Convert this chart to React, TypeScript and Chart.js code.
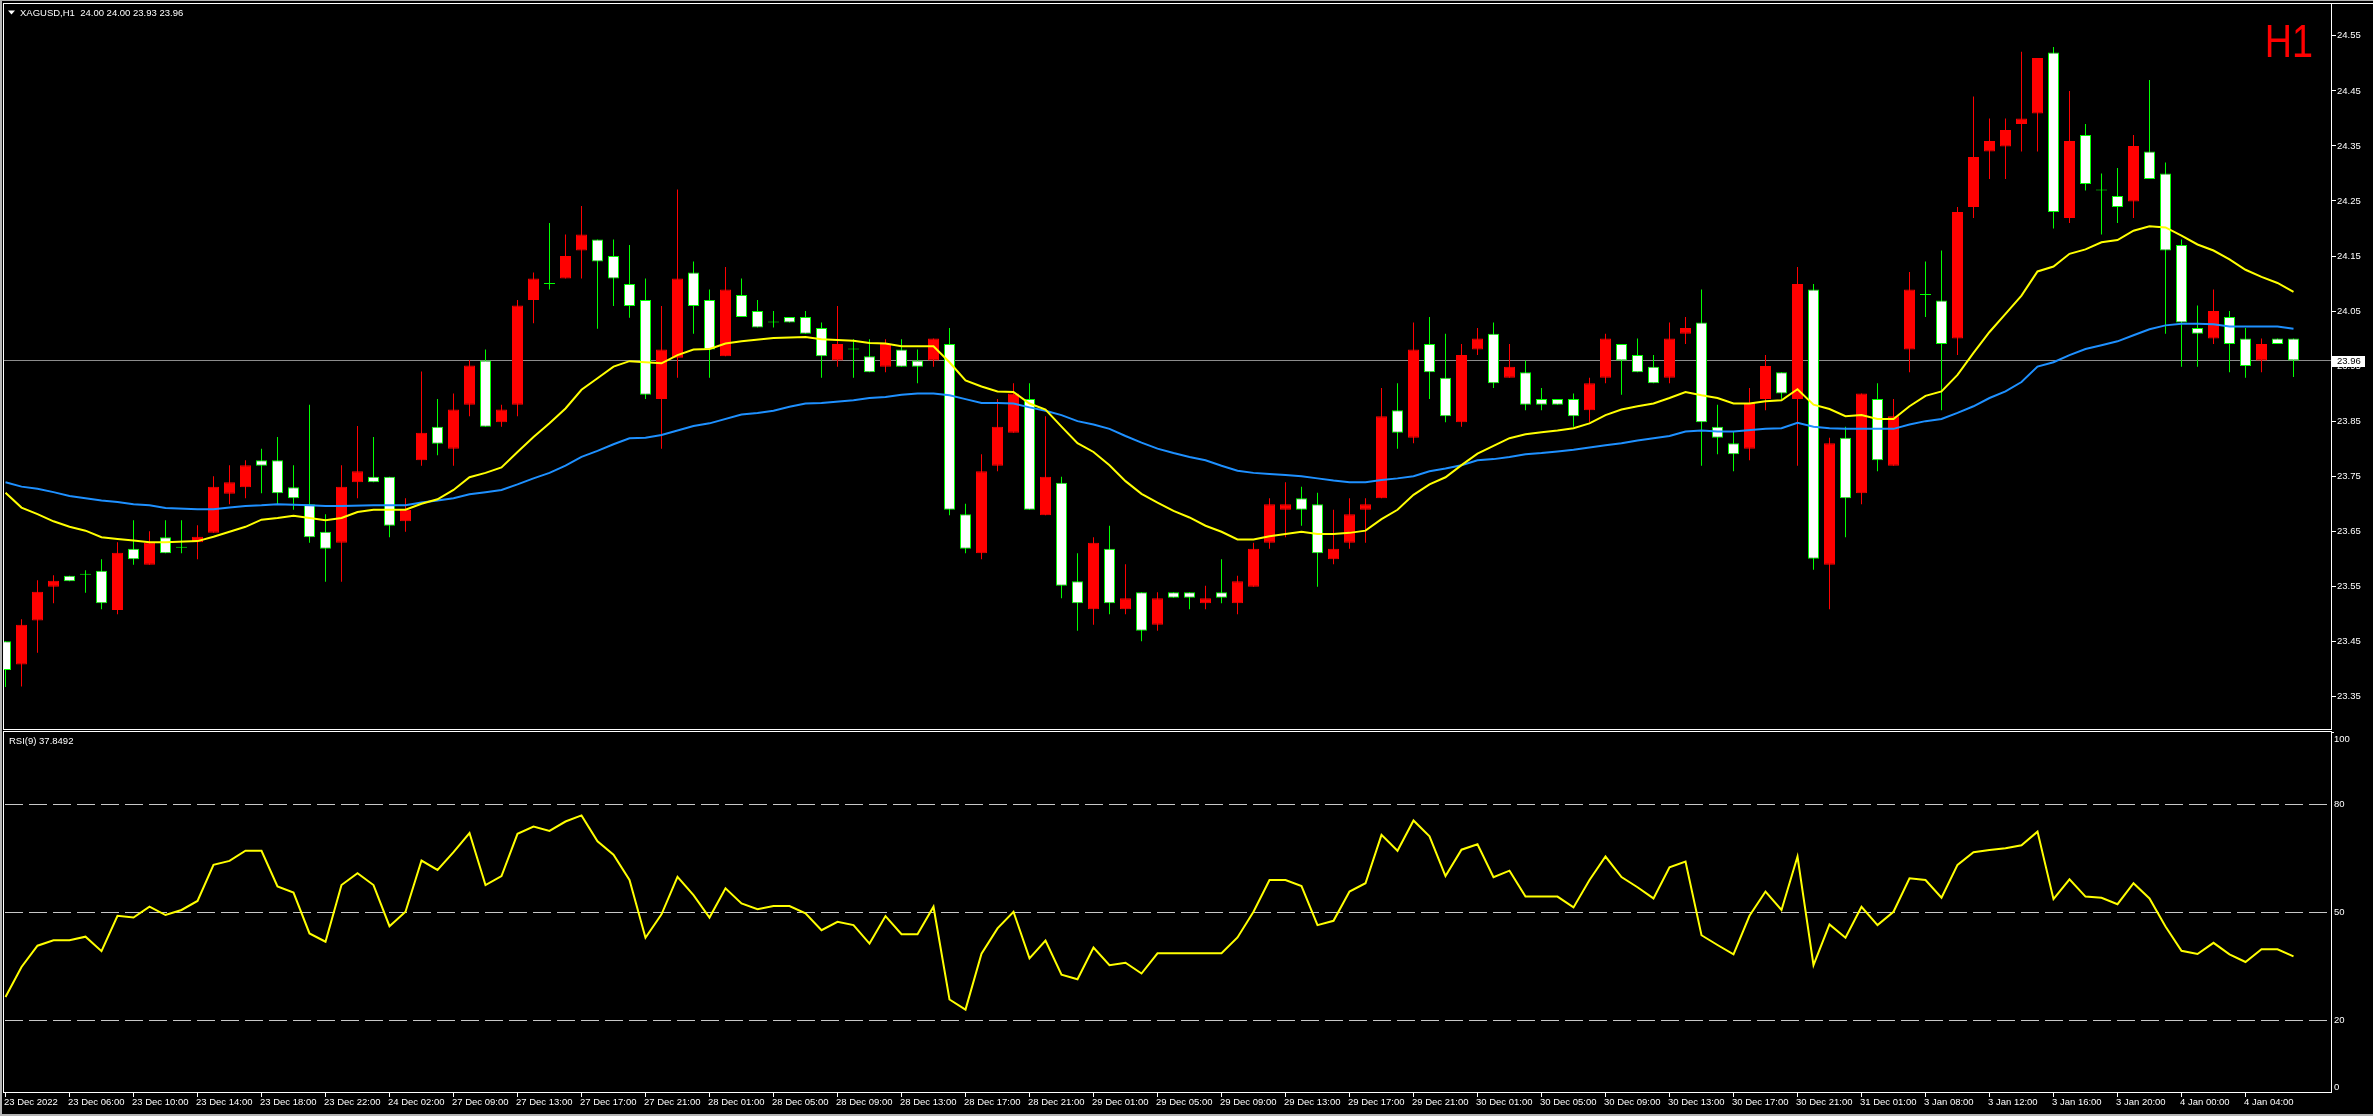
import React, { useEffect, useRef } from "react";
import { Chart, registerables } from "chart.js";

Chart.register(...registerables);

// ---------------- data ----------------
const SYMBOL = "XAGUSD,H1";
const TIMEFRAME = "H1";
const LAST_OHLC = "24.00 24.00 23.93 23.96";
const LAST_PRICE = 23.96;
const RSI_NAME = "RSI(9)";
const RSI_LAST = 37.8492;

const OPEN = [23.450,23.408,23.488,23.549,23.569,23.571,23.578,23.507,23.618,23.589,
23.639,23.620,23.630,23.647,23.718,23.730,23.779,23.779,23.730,23.699,
23.649,23.629,23.739,23.749,23.749,23.668,23.779,23.840,23.800,23.880,
23.960,23.848,23.880,24.070,24.099,24.109,24.160,24.180,24.150,24.099,
24.070,23.890,23.965,24.120,24.070,23.968,24.079,24.050,24.029,24.039,
24.039,24.019,23.960,23.980,23.968,23.949,23.980,23.960,23.960,23.990,
23.681,23.610,23.769,23.829,23.890,23.679,23.738,23.559,23.508,23.618,
23.508,23.539,23.480,23.539,23.539,23.519,23.539,23.519,23.549,23.629,
23.689,23.710,23.699,23.599,23.629,23.689,23.710,23.870,23.820,23.990,
23.929,23.848,23.980,24.009,23.929,23.939,23.890,23.890,23.890,23.870,
23.929,23.990,23.970,23.949,23.929,24.009,24.029,23.840,23.810,23.800,
23.890,23.939,23.890,24.089,23.589,23.820,23.719,23.890,23.769,23.980,
24.079,24.069,24.000,24.239,24.340,24.349,24.390,24.409,24.520,24.219,
24.370,24.269,24.259,24.249,24.340,24.300,24.170,24.019,24.000,24.039,
24.000,23.960,24.000,24.000];

const HIGH = [23.450,23.490,23.561,23.570,23.569,23.579,23.599,23.630,23.670,23.650,
23.670,23.670,23.661,23.750,23.770,23.779,23.800,23.821,23.770,23.880,
23.681,23.770,23.841,23.821,23.749,23.710,23.940,23.890,23.900,23.961,
23.980,23.880,24.070,24.120,24.210,24.189,24.241,24.180,24.180,24.170,
24.109,24.059,24.271,24.140,24.089,24.130,24.109,24.070,24.050,24.039,
24.050,24.029,24.059,23.999,23.999,23.999,23.999,23.980,24.000,24.019,
23.700,23.790,23.890,23.919,23.919,23.859,23.749,23.610,23.639,23.660,
23.590,23.539,23.539,23.539,23.539,23.551,23.599,23.569,23.629,23.710,
23.739,23.731,23.720,23.689,23.710,23.710,23.910,23.919,24.029,24.039,
24.009,23.990,24.019,24.029,23.990,23.960,23.910,23.890,23.900,23.929,
24.009,23.990,24.000,23.970,24.029,24.039,24.089,23.880,23.831,23.910,
23.970,23.939,24.130,24.099,23.820,23.840,23.900,23.919,23.890,24.121,
24.140,24.160,24.239,24.440,24.400,24.400,24.521,24.510,24.530,24.450,
24.390,24.300,24.310,24.370,24.470,24.320,24.180,24.060,24.089,24.050,
24.019,24.000,24.000,24.000];

const LOW = [23.367,23.368,23.429,23.519,23.559,23.538,23.508,23.499,23.589,23.589,
23.610,23.610,23.599,23.647,23.699,23.710,23.719,23.699,23.689,23.629,
23.558,23.558,23.710,23.739,23.639,23.649,23.769,23.788,23.769,23.859,
23.840,23.840,23.859,24.028,24.089,24.109,24.109,24.018,24.059,24.038,
23.890,23.800,23.929,24.009,23.929,23.968,24.039,24.020,24.020,24.029,
24.009,23.929,23.949,23.929,23.939,23.939,23.949,23.919,23.949,23.679,
23.610,23.599,23.759,23.829,23.689,23.679,23.528,23.469,23.480,23.499,
23.499,23.450,23.469,23.529,23.508,23.508,23.519,23.499,23.549,23.618,
23.639,23.660,23.549,23.590,23.618,23.629,23.710,23.800,23.810,23.890,
23.848,23.840,23.970,23.910,23.929,23.870,23.870,23.880,23.840,23.848,
23.919,23.898,23.939,23.919,23.919,23.990,23.769,23.790,23.759,23.779,
23.870,23.890,23.769,23.580,23.508,23.639,23.699,23.759,23.769,23.939,
24.039,23.870,23.970,24.219,24.290,24.290,24.340,24.340,24.200,24.210,
24.269,24.189,24.210,24.219,24.290,24.009,23.949,23.949,23.990,23.939,
23.929,23.939,23.990,23.930];

const CLOSE = [23.398,23.480,23.540,23.560,23.559,23.571,23.519,23.611,23.599,23.629,
23.610,23.620,23.640,23.731,23.739,23.770,23.769,23.719,23.710,23.639,
23.618,23.731,23.759,23.739,23.660,23.689,23.829,23.809,23.871,23.951,
23.840,23.871,24.060,24.109,24.099,24.150,24.189,24.140,24.109,24.059,
23.898,23.980,24.109,24.059,23.980,24.089,24.039,24.020,24.029,24.029,
24.009,23.968,23.990,23.980,23.939,23.990,23.949,23.949,24.000,23.689,
23.618,23.759,23.840,23.900,23.689,23.749,23.551,23.519,23.629,23.519,
23.528,23.469,23.528,23.529,23.529,23.528,23.529,23.559,23.618,23.699,
23.699,23.689,23.610,23.618,23.681,23.699,23.859,23.829,23.980,23.939,
23.859,23.970,24.000,23.919,23.949,23.880,23.880,23.880,23.859,23.919,
24.000,23.960,23.939,23.919,24.000,24.019,23.848,23.820,23.790,23.883,
23.950,23.900,24.099,23.600,23.810,23.710,23.900,23.779,23.859,24.089,
24.079,23.990,24.230,24.330,24.359,24.379,24.400,24.510,24.230,24.359,
24.281,24.269,24.239,24.350,24.290,24.160,24.029,24.009,24.050,23.990,
23.950,23.990,23.990,23.960];

// yellow (fast) moving average, [bar index, price]
const MA_FAST = [[0,23.720],[1,23.693],[2,23.681],[3,23.668],[4,23.658],[5,23.651],[6,23.639],[7,23.636],[8,23.633],[9,23.630],
[10,23.630],[12,23.632],[13,23.640],[14,23.649],[15,23.658],[16,23.671],[17,23.674],[18,23.678],[19,23.674],[20,23.670],
[21,23.674],[22,23.685],[23,23.689],[25,23.689],[26,23.700],[27,23.708],[28,23.725],[29,23.748],[30,23.756],[31,23.766],
[32,23.794],[33,23.821],[34,23.846],[35,23.873],[36,23.907],[37,23.928],[38,23.949],[39,23.959],[41,23.955],[42,23.970],
[43,23.980],[44,23.981],[45,23.991],[46,23.995],[48,24.001],[50,24.003],[51,23.999],[53,23.996],[54,23.992],[55,23.991],
[56,23.986],[58,23.986],[59,23.957],[60,23.924],[61,23.913],[62,23.904],[63,23.903],[64,23.882],[65,23.871],[66,23.840],
[67,23.810],[68,23.794],[69,23.770],[70,23.741],[71,23.718],[72,23.702],[73,23.687],[74,23.675],[75,23.660],[76,23.649],
[77,23.635],[78,23.635],[79,23.641],[80,23.645],[81,23.649],[82,23.645],[83,23.645],[84,23.647],[85,23.651],[86,23.672],
[87,23.689],[88,23.716],[89,23.735],[90,23.748],[91,23.770],[92,23.791],[93,23.805],[94,23.819],[95,23.826],[96,23.830],
[97,23.833],[98,23.837],[99,23.846],[100,23.861],[101,23.871],[102,23.877],[103,23.882],[104,23.892],[105,23.903],[106,23.897],
[107,23.892],[108,23.882],[109,23.882],[110,23.886],[111,23.888],[112,23.908],[113,23.880],[114,23.872],[115,23.859],[116,23.861],
[117,23.854],[118,23.854],[119,23.877],[120,23.896],[121,23.904],[122,23.934],[123,23.974],[124,24.012],[125,24.045],[126,24.078],
[127,24.122],[128,24.131],[129,24.154],[130,24.162],[131,24.175],[132,24.179],[133,24.196],[134,24.204],[135,24.202],[136,24.187],
[137,24.171],[138,24.160],[139,24.144],[140,24.125],[141,24.112],[142,24.101],[143,24.085]];

// blue (slow) moving average, [bar index, price]
const MA_SLOW = [[0,23.739],[1,23.731],[2,23.727],[3,23.721],[4,23.714],[6,23.706],[7,23.703],[8,23.699],[9,23.697],[10,23.692],
[12,23.690],[13,23.690],[14,23.693],[15,23.696],[16,23.697],[17,23.699],[19,23.697],[20,23.696],[21,23.696],[23,23.697],
[25,23.697],[26,23.702],[27,23.706],[28,23.710],[29,23.717],[30,23.721],[31,23.725],[32,23.735],[33,23.746],[34,23.756],
[35,23.769],[36,23.785],[37,23.796],[38,23.808],[39,23.819],[40,23.820],[41,23.825],[42,23.833],[43,23.841],[44,23.846],
[46,23.862],[47,23.865],[48,23.869],[49,23.876],[50,23.882],[51,23.883],[53,23.888],[54,23.892],[55,23.894],[56,23.898],
[57,23.900],[58,23.900],[59,23.897],[60,23.890],[61,23.883],[62,23.883],[63,23.882],[64,23.875],[65,23.869],[66,23.861],
[67,23.850],[68,23.844],[69,23.836],[70,23.823],[71,23.811],[72,23.800],[73,23.792],[74,23.785],[75,23.779],[76,23.769],
[77,23.760],[78,23.756],[79,23.754],[80,23.752],[81,23.750],[82,23.746],[83,23.742],[84,23.739],[85,23.739],[86,23.743],
[87,23.746],[88,23.750],[89,23.759],[90,23.764],[91,23.770],[92,23.779],[93,23.781],[94,23.785],[95,23.790],[96,23.792],
[97,23.795],[98,23.798],[99,23.802],[100,23.806],[101,23.810],[102,23.815],[103,23.819],[104,23.823],[105,23.831],[106,23.833],
[107,23.831],[108,23.831],[110,23.836],[111,23.837],[112,23.847],[113,23.840],[114,23.837],[115,23.836],[116,23.836],[117,23.836],
[118,23.836],[119,23.844],[120,23.850],[121,23.854],[122,23.865],[123,23.877],[124,23.892],[125,23.904],[126,23.921],[127,23.949],
[128,23.957],[129,23.970],[130,23.981],[131,23.988],[132,23.995],[133,24.006],[134,24.017],[135,24.024],[136,24.027],[137,24.027],
[138,24.026],[139,24.022],[140,24.022],[141,24.022],[142,24.022],[143,24.018]];

const RSI = [26.6,34.9,40.8,42.3,42.3,43.3,39.3,49.1,48.6,51.6,
49.3,50.7,53.2,63.2,64.3,67.1,67.1,57.2,55.5,44.2,
41.9,57.6,60.9,57.6,46.2,50.2,64.4,61.8,66.7,72.0,
57.6,60.1,71.8,73.8,72.6,75.2,76.9,69.7,66.0,59.0,
43.0,49.5,59.9,54.8,48.6,56.7,52.5,50.9,51.8,51.8,
49.8,45.1,47.4,46.5,41.4,49.0,44.0,44.0,51.6,25.9,
23.1,38.6,45.6,50.2,37.3,42.2,32.8,31.5,40.3,35.4,
36.1,33.1,38.7,38.7,38.7,38.7,38.7,43.1,50.2,59.0,
59.0,57.3,46.5,47.7,55.8,58.1,71.5,67.1,75.5,71.1,
60.1,67.4,68.9,59.8,61.6,54.4,54.4,54.4,51.4,59.0,
65.5,59.8,57.0,53.9,62.5,64.1,43.7,41.0,38.4,49.1,
55.8,50.7,65.5,35.4,46.7,43.0,51.6,46.5,50.2,59.5,
59.0,54.1,63.2,66.7,67.3,67.8,68.6,72.4,53.7,59.2,
54.4,54.1,52.3,58.1,53.9,46.1,39.4,38.5,41.6,38.4,
36.3,39.8,39.8,37.85];

const X_LABEL_INDEX = [0,4,8,12,16,20,24,28,32,36,40,44,48,52,56,60,64,68,72,76,80,84,88,92,96,100,104,108,112,116,120,124,128,132,136,140];
const X_LABELS = ["23 Dec 2022","23 Dec 06:00","23 Dec 10:00","23 Dec 14:00","23 Dec 18:00","23 Dec 22:00","24 Dec 02:00",
"27 Dec 09:00","27 Dec 13:00","27 Dec 17:00","27 Dec 21:00","28 Dec 01:00","28 Dec 05:00","28 Dec 09:00","28 Dec 13:00",
"28 Dec 17:00","28 Dec 21:00","29 Dec 01:00","29 Dec 05:00","29 Dec 09:00","29 Dec 13:00","29 Dec 17:00","29 Dec 21:00",
"30 Dec 01:00","30 Dec 05:00","30 Dec 09:00","30 Dec 13:00","30 Dec 17:00","30 Dec 21:00","31 Dec 01:00","3 Jan 08:00",
"3 Jan 12:00","3 Jan 16:00","3 Jan 20:00","4 Jan 00:00","4 Jan 04:00"];

const PRICE_TICKS = [24.55,24.45,24.35,24.25,24.15,24.05,23.95,23.85,23.75,23.65,23.55,23.45,23.35];
const RSI_TICKS = [100,80,50,20,0];
const RSI_LEVELS = [80,50,20];

// ---------------- layout / style ----------------
const W = 2373;
const MAIN_H = 730;
const RSI_H = 386;
const X_MIN = -0.09375;
const X_MAX = 145.40625;
const PRICE_MIN = 23.301;
const PRICE_MAX = 24.603;
const FONT = '"Liberation Sans", Arial, sans-serif';
const AXIS_SIZE = 9.5;
const WHITE = "#ffffff";
const FRAME_GREY = "#b4b4b4";
const BULL = "#ff0000";
const BEAR_LINE = "#00ff00";

export default function App() {
  const mainRef = useRef<HTMLCanvasElement | null>(null);
  const rsiRef = useRef<HTMLCanvasElement | null>(null);

  useEffect(() => {
    document.body.style.margin = "0";
    document.body.style.background = "#000";
    const idx = OPEN.map((_, i) => i);
    const bodyFill = idx.map((i) => (CLOSE[i] > OPEN[i] ? BULL : CLOSE[i] < OPEN[i] ? WHITE : BEAR_LINE));
    const lineCol = idx.map((i) => (CLOSE[i] > OPEN[i] ? BULL : BEAR_LINE));

    const mainDecor = {
      id: "mainDecor",
      beforeDraw(chart: any) {
        const c = chart.ctx;
        c.save();
        c.fillStyle = "#000";
        c.fillRect(0, 0, chart.width, chart.height);
        c.restore();
      },
      beforeDatasetsDraw(chart: any) {
        const c = chart.ctx;
        const a = chart.chartArea;
        const y = Math.floor(chart.scales.y.getPixelForValue(LAST_PRICE)) + 0.5;
        c.save();
        c.strokeStyle = "#8c8c8c";
        c.lineWidth = 1;
        c.beginPath();
        c.moveTo(a.left, y);
        c.lineTo(a.right, y);
        c.stroke();
        c.restore();
      },
      afterDraw(chart: any) {
        const c = chart.ctx;
        c.save();
        // frame
        c.fillStyle = FRAME_GREY;
        c.fillRect(0, 0, W, 1);
        c.fillRect(0, 0, 2, MAIN_H);
        c.fillStyle = WHITE;
        c.fillRect(3, 3, W - 3, 1);
        c.fillRect(3, 3, 1, MAIN_H - 3);
        c.fillRect(2331, 3, 1, MAIN_H - 3);
        c.fillRect(3, 729, 2329, 1);
        // title
        c.beginPath();
        c.moveTo(8, 10.5);
        c.lineTo(15, 10.5);
        c.lineTo(11.5, 14.5);
        c.closePath();
        c.fill();
        c.font = "9.5px " + FONT;
        c.textBaseline = "middle";
        c.textAlign = "left";
        c.fillText(SYMBOL + "  " + LAST_OHLC, 20, 13);
        // timeframe label (condensed)
        c.save();
        c.fillStyle = "#ff0000";
        c.font = "46px " + FONT;
        c.textAlign = "right";
        c.textBaseline = "alphabetic";
        c.translate(2313, 57);
        c.scale(0.82, 1);
        c.fillText(TIMEFRAME, 0, 0);
        c.restore();
        // current price box
        const y = chart.scales.y.getPixelForValue(LAST_PRICE);
        c.fillStyle = WHITE;
        c.fillRect(2332, Math.round(y) - 5, 33, 11);
        c.fillStyle = "#000";
        c.font = AXIS_SIZE + "px " + FONT;
        c.textAlign = "left";
        c.textBaseline = "middle";
        c.fillText(LAST_PRICE.toFixed(2), 2337, Math.round(y) + 0.5);
        c.restore();
      },
    };

    const main = new Chart(mainRef.current as HTMLCanvasElement, {
      type: "bar",
      data: {
        datasets: [
          {
            type: "line",
            label: "MA fast",
            data: MA_FAST.map(([x, y]) => ({ x, y })),
            borderColor: "#ffff00",
            borderWidth: 2,
            pointRadius: 0,
            tension: 0,
            order: 0,
          } as any,
          {
            type: "line",
            label: "MA slow",
            data: MA_SLOW.map(([x, y]) => ({ x, y })),
            borderColor: "#1e90ff",
            borderWidth: 2,
            pointRadius: 0,
            tension: 0,
            order: 1,
          } as any,
          {
            type: "bar",
            label: "body",
            data: idx.map((i) => ({ x: i, y: [OPEN[i], CLOSE[i]] })),
            backgroundColor: bodyFill,
            borderColor: lineCol,
            borderWidth: 1,
            borderSkipped: false,
            barThickness: 11,
            minBarLength: 1,
            grouped: false,
            inflateAmount: 0,
            order: 2,
          } as any,
          {
            type: "bar",
            label: "wick",
            data: idx.map((i) => ({ x: i, y: [LOW[i], HIGH[i]] })),
            backgroundColor: lineCol,
            borderWidth: 0,
            barThickness: 1,
            grouped: false,
            inflateAmount: 0,
            order: 3,
          } as any,
        ],
      },
      options: {
        responsive: false,
        animation: false,
        devicePixelRatio: 1,
        layout: { padding: { left: 4, top: 4, right: 0, bottom: 1 } },
        plugins: { legend: { display: false }, tooltip: { enabled: false } },
        scales: {
          x: { type: "linear", min: X_MIN, max: X_MAX, display: false, offset: false },
          y: {
            type: "linear",
            position: "right",
            min: PRICE_MIN,
            max: PRICE_MAX,
            beginAtZero: false,
            afterFit: (s: any) => {
              s.width = 41;
            },
            afterBuildTicks: (s: any) => {
              s.ticks = PRICE_TICKS.map((v) => ({ value: v }));
            },
            ticks: {
              color: WHITE,
              font: { family: FONT, size: AXIS_SIZE },
              padding: 1,
              autoSkip: false,
              callback: (v: any) => Number(v).toFixed(2),
            },
            grid: { drawOnChartArea: false, drawTicks: true, tickLength: 4, color: WHITE },
            border: { display: false },
          },
        },
      } as any,
      plugins: [mainDecor],
    });

    const rsiDecor = {
      id: "rsiDecor",
      beforeDraw(chart: any) {
        const c = chart.ctx;
        c.save();
        c.fillStyle = "#000";
        c.fillRect(0, 0, chart.width, chart.height);
        c.restore();
      },
      beforeDatasetsDraw(chart: any) {
        const c = chart.ctx;
        const a = chart.chartArea;
        c.save();
        c.strokeStyle = "#c8c8c8";
        c.lineWidth = 1;
        c.setLineDash([18, 6]);
        RSI_LEVELS.forEach((v) => {
          const y = Math.floor(chart.scales.y.getPixelForValue(v)) + 0.5;
          c.beginPath();
          c.moveTo(a.left + 1, y);
          c.lineTo(a.right - 3, y);
          c.stroke();
        });
        c.restore();
      },
      afterDraw(chart: any) {
        const c = chart.ctx;
        const a = chart.chartArea;
        c.save();
        c.fillStyle = FRAME_GREY;
        c.fillRect(0, 0, 2, RSI_H);
        c.fillRect(0, RSI_H - 2, W, 2);
        c.fillStyle = WHITE;
        c.fillRect(3, 1, 2329, 1);
        c.fillRect(3, 1, 1, a.bottom - 1);
        c.fillRect(2331, 1, 1, a.bottom - 1);
        c.fillRect(3, a.bottom - 1, 2329, 1);
        c.fillRect(2331, a.top, 3, 1);
        // y labels
        c.font = AXIS_SIZE + "px " + FONT;
        c.textAlign = "left";
        c.textBaseline = "middle";
        RSI_TICKS.forEach((v) => {
          let y = chart.scales.y.getPixelForValue(v);
          y = Math.max(a.top + 7, Math.min(a.bottom - 6, y));
          c.fillText(String(v), 2334, y);
        });
        // title
        c.font = "9.5px " + FONT;
        c.fillText(RSI_NAME + " " + RSI_LAST.toFixed(4), 9, 11);
        c.restore();
      },
    };

    const rsi = new Chart(rsiRef.current as HTMLCanvasElement, {
      type: "line",
      data: {
        datasets: [
          {
            label: RSI_NAME,
            data: RSI.map((v, i) => ({ x: i, y: v })),
            borderColor: "#ffff00",
            borderWidth: 2,
            pointRadius: 0,
            tension: 0,
          },
        ],
      },
      options: {
        responsive: false,
        animation: false,
        devicePixelRatio: 1,
        layout: { padding: { left: 4, top: 2, right: 0, bottom: 0 } },
        plugins: { legend: { display: false }, tooltip: { enabled: false } },
        scales: {
          x: {
            type: "linear",
            position: "bottom",
            min: X_MIN,
            max: X_MAX,
            offset: false,
            afterBuildTicks: (s: any) => {
              s.ticks = X_LABEL_INDEX.map((v) => ({ value: v }));
            },
            afterFit: (s: any) => {
              s.height = 23;
              s.paddingLeft = 0;
              s.paddingRight = 0;
            },
            ticks: {
              align: "start",
              maxRotation: 0,
              minRotation: 0,
              autoSkip: false,
              color: WHITE,
              padding: 0,
              labelOffset: -1.5,
              font: { family: FONT, size: AXIS_SIZE, lineHeight: 1.1 },
              callback: (v: any) => {
                const k = X_LABEL_INDEX.indexOf(Number(v));
                return k >= 0 ? X_LABELS[k] : "";
              },
            },
            grid: { drawOnChartArea: false, drawTicks: true, tickLength: 4, color: WHITE },
            border: { display: false },
          },
          y: {
            type: "linear",
            position: "right",
            min: 0,
            max: 100,
            afterFit: (s: any) => {
              s.width = 41;
            },
            ticks: { display: false },
            grid: { display: false },
            border: { display: false },
          },
        },
      } as any,
      plugins: [rsiDecor],
    });

    return () => {
      main.destroy();
      rsi.destroy();
    };
  }, []);

  return (
    <div style={{ position: "absolute", left: 0, top: 0, width: W, height: MAIN_H + RSI_H, background: "#000" }}>
      <canvas ref={mainRef} width={W} height={MAIN_H} style={{ display: "block", width: W, height: MAIN_H }} />
      <canvas ref={rsiRef} width={W} height={RSI_H} style={{ display: "block", width: W, height: RSI_H }} />
    </div>
  );
}
